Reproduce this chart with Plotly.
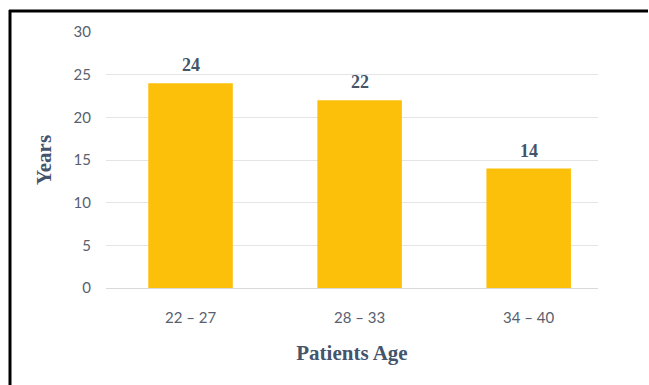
import plotly.graph_objects as go

categories = ["22 – 27", "28 – 33", "34 – 40"]
values = [24, 22, 14]
y_ticks = [0, 5, 10, 15, 20, 25, 30]

W, H = 649, 385
ml, mr, mt, mb = 106, 51, 32, 97
pw, ph = W - ml - mr, H - mt - mb

label_color = "#44546A"
tick_color = "#595f6e"

fig = go.Figure()
fig.add_trace(go.Bar(
    x=categories, y=values,
    marker=dict(color="#FCC00A", line=dict(width=0)),
    width=0.5,
))

for c, v in zip(categories, values):
    fig.add_annotation(x=c, y=v, text=f"<b>{v}</b>", showarrow=False,
                       yanchor="bottom", yshift=6,
                       font=dict(family="Liberation Serif", size=18, color=label_color))

# frame (left and top edges visible)
def px_x(p):
    return (p - ml) / pw

def px_y(p):
    return 1 - (p - mt) / ph

fig.add_shape(type="line", xref="paper", yref="paper",
              x0=px_x(10), x1=px_x(10), y0=px_y(10), y1=px_y(H),
              line=dict(color="black", width=3))
fig.add_shape(type="line", xref="paper", yref="paper",
              x0=px_x(9), x1=px_x(W - 1), y0=px_y(11), y1=px_y(11),
              line=dict(color="black", width=3))

fig.update_layout(
    width=W, height=H,
    margin=dict(l=ml, r=mr, t=mt, b=mb, autoexpand=False),
    plot_bgcolor="white", paper_bgcolor="white",
    showlegend=False,
    bargap=0.5,
    xaxis=dict(
        range=[-0.5, 2.41],
        showgrid=False, zeroline=False,
        showline=True, linecolor="#d9d9d9", linewidth=1,
        tickfont=dict(family="Lato", size=15, color=tick_color),
        ticklabelstandoff=16,
        title=dict(text="<b>Patients Age</b>", standoff=20,
                   font=dict(family="Liberation Serif", size=21, color=label_color)),
    ),
    yaxis=dict(
        range=[0, 30], tickvals=y_ticks,
        showgrid=True, gridcolor="#e4e4e4", gridwidth=1,
        zeroline=False, showline=False,
        tickfont=dict(family="Lato", size=15, color=tick_color),
        ticklabelstandoff=14,
        title=dict(text="<b>Years</b>", standoff=16,
                   font=dict(family="Liberation Serif", size=21, color=label_color)),
    ),
)

fig.write_html("out.html", config={"displayModeBar": False})
